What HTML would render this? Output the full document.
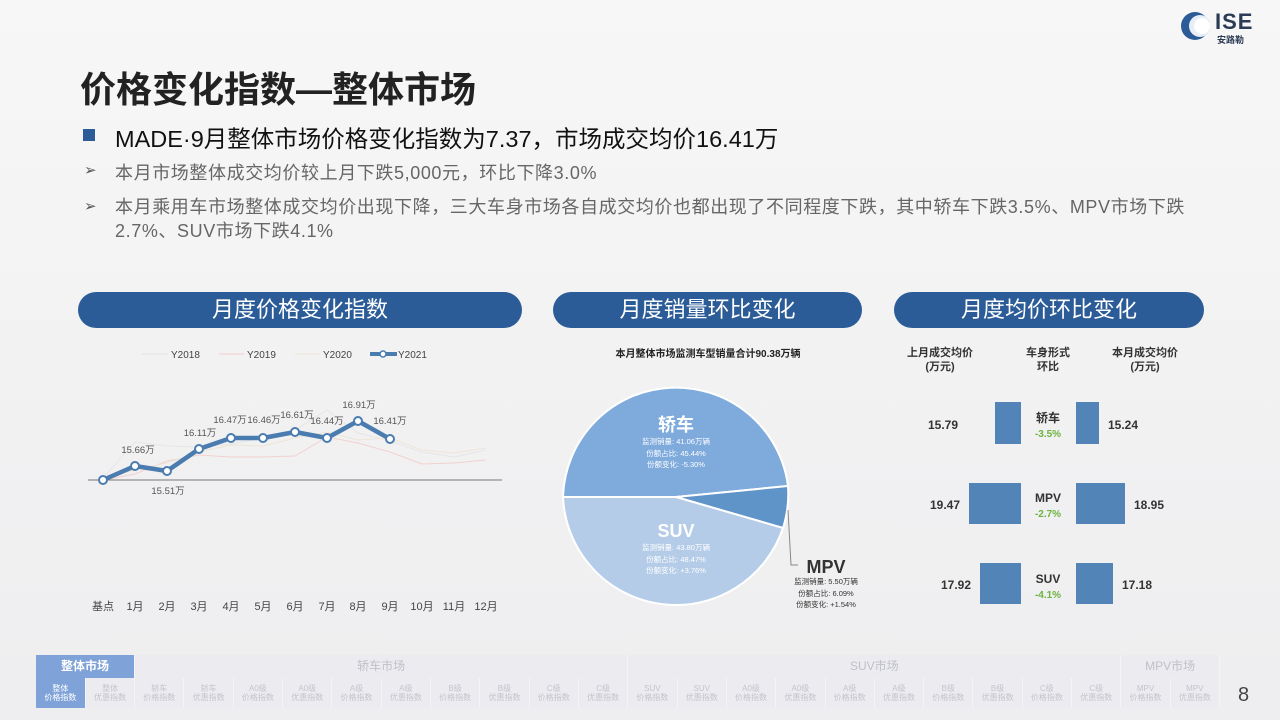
<!DOCTYPE html>
<html><head><meta charset="utf-8"><style>
*{margin:0;padding:0;box-sizing:border-box}
body{width:1280px;height:720px;overflow:hidden;font-family:"Liberation Sans","Noto Sans CJK SC",sans-serif;background:linear-gradient(180deg,#f7f7f7 0%,#f1f1f2 60%,#eeeef0 100%);position:relative}
.a{position:absolute;white-space:nowrap}
.pill{position:absolute;height:36px;border-radius:18px;background:#2c5c98;color:#fff;font-size:22px;text-align:center;line-height:36px}
.nav td{border-right:1px solid #f4f4f6;text-align:center;color:#c4c4cc;font-size:8px;line-height:9px}
</style></head><body>
<svg class="a" style="left:1180px;top:10px" width="30" height="32" viewBox="0 0 30 32">
<circle cx="15" cy="16" r="14" fill="#2c5c98"/><circle cx="20" cy="16" r="11" fill="#e8eef6"/><circle cx="22" cy="16" r="8" fill="#fff"/></svg>
<div class="a" style="left:1215px;top:9px;font-size:22px;font-weight:bold;color:#2b3a55;letter-spacing:1px">ISE</div>
<div class="a" style="left:1217px;top:33px;font-size:9px;font-weight:bold;color:#2b3a55">安路勒</div>

<div class="a" style="left:80px;top:61px;font-size:36px;font-weight:bold;color:#222">价格变化指数—整体市场</div>
<div class="a" style="left:83px;top:129px;width:12px;height:12px;background:#2c5c98"></div>
<div class="a" style="left:115px;top:120px;font-size:23.5px;color:#111">MADE·9月整体市场价格变化指数为7.37，市场成交均价16.41万</div>
<div class="a" style="left:84px;top:161px;font-size:15px;color:#555">➢</div>
<div class="a" style="left:115px;top:159px;font-size:18px;color:#666;letter-spacing:0.6px">本月市场整体成交均价较上月下跌5,000元，环比下降3.0%</div>
<div class="a" style="left:84px;top:197px;font-size:15px;color:#555">➢</div>
<div class="a" style="left:115px;top:195px;font-size:18px;color:#666;line-height:24px;letter-spacing:0.6px">本月乘用车市场整体成交均价出现下降，三大车身市场各自成交均价也都出现了不同程度下跌，其中轿车下跌3.5%、MPV市场下跌<br>2.7%、SUV市场下跌4.1%</div>

<div class="pill" style="left:78px;top:292px;width:444px">月度价格变化指数</div>
<div class="pill" style="left:553px;top:292px;width:309px">月度销量环比变化</div>
<div class="pill" style="left:894px;top:292px;width:310px">月度均价环比变化</div>

<svg class="a" style="left:0;top:0" width="1280" height="720" font-family="Liberation Sans, Noto Sans CJK SC, sans-serif">
<g font-size="10" fill="#444">
<line x1="142" y1="354" x2="168" y2="354" stroke="#e2e2e2"/><text x="171" y="358">Y2018</text>
<line x1="219" y1="354" x2="244" y2="354" stroke="#f2cccc"/><text x="247" y="358">Y2019</text>
<line x1="295" y1="354" x2="320" y2="354" stroke="#ece6d8"/><text x="323" y="358">Y2020</text>
<line x1="370" y1="354" x2="397" y2="354" stroke="#4a7cb0" stroke-width="4"/><circle cx="383" cy="354" r="3" fill="#fff" stroke="#4a7cb0" stroke-width="1.5"/><text x="398" y="358">Y2021</text>
</g>
<polyline fill="none" stroke="#e6e6e6" points="103,478 135,442 167,446 199,447 231,444 263,438 295,430 327,410 358,433 390,441 422,452 454,457 486,450"/>
<polyline fill="none" stroke="#f3d0d0" points="103,480 135,474 167,461 199,455 231,457 263,457 295,456 327,437 358,443 390,452 422,464 454,463 486,460"/>
<polyline fill="none" stroke="#ece6d8" points="103,478 135,470 167,463 199,452 231,445 263,446 295,438 327,432 358,440 390,438 422,450 454,453 486,448"/>
<line x1="88" y1="480" x2="502" y2="480" stroke="#777"/>
<polyline fill="none" stroke="#4a7cb0" stroke-width="4.5" stroke-linejoin="round" points="103,480 135,466 167,471 199,449 231,438 263,438 295,432 327,438 358,421 390,439"/>
<g fill="#fff" stroke="#4a7cb0" stroke-width="2">
<circle cx="103" cy="480" r="4"/><circle cx="135" cy="466" r="4"/><circle cx="167" cy="471" r="4"/><circle cx="199" cy="449" r="4"/><circle cx="231" cy="438" r="4"/><circle cx="263" cy="438" r="4"/><circle cx="295" cy="432" r="4"/><circle cx="327" cy="438" r="4"/><circle cx="358" cy="421" r="4"/><circle cx="390" cy="439" r="4"/></g>
<g font-size="9.5" fill="#555" text-anchor="middle">
<text x="138" y="453">15.66万</text><text x="168" y="494">15.51万</text><text x="200" y="436">16.11万</text>
<text x="230" y="423">16.47万</text><text x="264" y="423">16.46万</text><text x="297" y="418">16.61万</text>
<text x="327" y="424">16.44万</text><text x="359" y="408">16.91万</text><text x="390" y="424">16.41万</text></g>
<g font-size="11" fill="#444" text-anchor="middle">
<text x="103" y="610">基点</text><text x="135" y="610">1月</text><text x="167" y="610">2月</text><text x="199" y="610">3月</text><text x="231" y="610">4月</text><text x="263" y="610">5月</text><text x="295" y="610">6月</text><text x="327" y="610">7月</text><text x="358" y="610">8月</text><text x="390" y="610">9月</text><text x="422" y="610">10月</text><text x="454" y="610">11月</text><text x="486" y="610">12月</text></g>

<text x="708" y="357" font-size="10" font-weight="bold" fill="#222" text-anchor="middle">本月整体市场监测车型销量合计90.38万辆</text>
<g stroke="#fff" stroke-width="2">
<path d="M676,497 L563,497 A113,113 0 0 1 788,486 Z" fill="#7eaadc"/>
<path d="M676,497 L788,486 A113,113 0 0 1 783,528 Z" fill="#5f94c9"/>
<path d="M676,497 L783,528 A113,113 0 0 1 563,497 Z" fill="#b4cce8"/>
</g>
<polyline fill="none" stroke="#888" points="788,510 791,565 798,565"/>
<g fill="#fff" text-anchor="middle">
<text x="676" y="431" font-size="18" font-weight="bold">轿车</text>
<g font-size="7.5"><text x="676" y="444">监测销量: 41.06万辆</text><text x="676" y="456">份额占比: 45.44%</text><text x="676" y="467">份额变化: -5.30%</text></g>
<text x="676" y="537" font-size="18" font-weight="bold">SUV</text>
<g font-size="7.5"><text x="676" y="550">监测销量: 43.80万辆</text><text x="676" y="562">份额占比: 48.47%</text><text x="676" y="573">份额变化: +3.76%</text></g>
</g>
<text x="826" y="573" font-size="18" font-weight="bold" fill="#333" text-anchor="middle">MPV</text>
<g font-size="7.5" fill="#333" text-anchor="middle"><text x="826" y="584">监测销量: 5.50万辆</text><text x="826" y="596">份额占比: 6.09%</text><text x="826" y="607">份额变化: +1.54%</text></g>

<g font-size="11" font-weight="bold" fill="#333" text-anchor="middle">
<text x="940" y="356">上月成交均价</text><text x="940" y="370">(万元)</text>
<text x="1048" y="356">车身形式</text><text x="1048" y="370">环比</text>
<text x="1145" y="356">本月成交均价</text><text x="1145" y="370">(万元)</text></g>
<g fill="#5384b8">
<rect x="995" y="402" width="26" height="42"/><rect x="1076" y="402" width="23" height="42"/>
<rect x="969" y="483" width="52" height="41"/><rect x="1076" y="483" width="49" height="41"/>
<rect x="980" y="563" width="41" height="41"/><rect x="1076" y="563" width="37" height="41"/></g>
<g font-size="12" font-weight="bold" fill="#333">
<text x="958" y="429" text-anchor="end">15.79</text><text x="1108" y="429">15.24</text>
<text x="960" y="509" text-anchor="end">19.47</text><text x="1134" y="509">18.95</text>
<text x="971" y="589" text-anchor="end">17.92</text><text x="1122" y="589">17.18</text></g>
<g text-anchor="middle" font-weight="bold">
<text x="1048" y="422" font-size="12" fill="#333">轿车</text><text x="1048" y="437" font-size="10" fill="#6db33f">-3.5%</text>
<text x="1048" y="502" font-size="12" fill="#333">MPV</text><text x="1048" y="517" font-size="10" fill="#6db33f">-2.7%</text>
<text x="1048" y="583" font-size="12" fill="#333">SUV</text><text x="1048" y="598" font-size="10" fill="#6db33f">-4.1%</text></g>
</svg>

<table class="a nav" style="left:36px;top:655px;width:1184px;border-collapse:collapse;table-layout:fixed;background:#ebebf0">
<tr style="height:23px;font-size:12px">
<td colspan="2" style="background:#7fa3d8;color:#fff;font-size:12px;font-weight:bold">整体市场</td>
<td colspan="10" style="font-size:12px;color:#c0c0c8">轿车市场</td>
<td colspan="10" style="font-size:12px;color:#c0c0c8">SUV市场</td>
<td colspan="2" style="font-size:12px;color:#c0c0c8">MPV市场</td></tr>
<tr style="height:30px">
<td style="background:#7fa3d8;color:#fff">整体<br>价格指数</td><td>整体<br>优惠指数</td>
<td>轿车<br>价格指数</td><td>轿车<br>优惠指数</td><td>A0级<br>价格指数</td><td>A0级<br>优惠指数</td><td>A级<br>价格指数</td><td>A级<br>优惠指数</td><td>B级<br>价格指数</td><td>B级<br>优惠指数</td><td>C级<br>价格指数</td><td>C级<br>优惠指数</td>
<td>SUV<br>价格指数</td><td>SUV<br>优惠指数</td><td>A0级<br>价格指数</td><td>A0级<br>优惠指数</td><td>A级<br>价格指数</td><td>A级<br>优惠指数</td><td>B级<br>价格指数</td><td>B级<br>优惠指数</td><td>C级<br>价格指数</td><td>C级<br>优惠指数</td>
<td>MPV<br>价格指数</td><td>MPV<br>优惠指数</td></tr></table>
<div class="a" style="left:1238px;top:684px;font-size:20px;color:#444">8</div>
</body></html>
